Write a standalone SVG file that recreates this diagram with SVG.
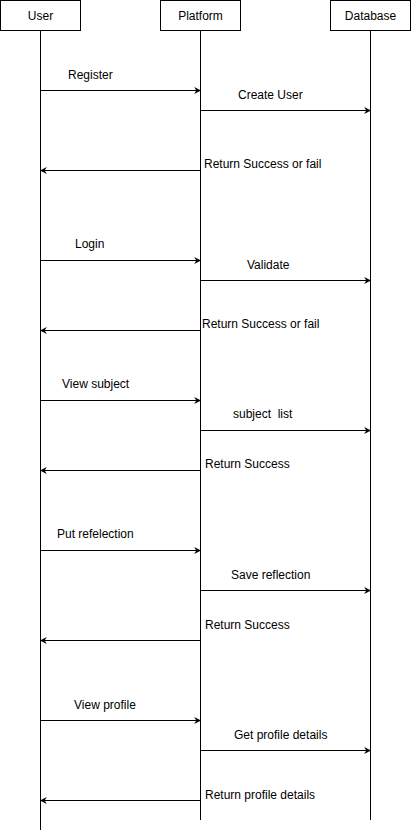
<svg xmlns="http://www.w3.org/2000/svg" width="411" height="832" viewBox="0 0 411 832">
<style>
.box{fill:#fff;stroke:#000;stroke-width:1}
.life{stroke:#000;stroke-width:1;fill:none}
.msg{stroke:#000;stroke-width:1;fill:none;marker-end:url(#arr)}
text{font-family:"Liberation Sans",Arial,sans-serif;font-size:12px;fill:#000;white-space:pre}
.c{text-anchor:middle}
</style>
<defs>
<marker id="arr" viewBox="0 0 10 10" refX="9" refY="5" markerWidth="7" markerHeight="7" markerUnits="userSpaceOnUse" orient="auto">
<path d="M0,0 L10,5 L0,10 L3,5 Z" fill="#000"/>
</marker>
</defs>
<rect width="411" height="832" fill="#fff"/>
<g id="user">
<rect class="box" x="0.5" y="0.5" width="80" height="30"/>
<text class="c" x="40.5" y="20">User</text>
<line class="life" x1="40.5" y1="30.5" x2="40.5" y2="830"/>
</g>
<g id="platform">
<rect class="box" x="160.5" y="0.5" width="80" height="30"/>
<text class="c" x="200.5" y="20">Platform</text>
<line class="life" x1="200.5" y1="30.5" x2="200.5" y2="820"/>
</g>
<g id="database">
<rect class="box" x="330.5" y="0.5" width="80" height="30"/>
<text class="c" x="370.5" y="20">Database</text>
<line class="life" x1="370.5" y1="30.5" x2="370.5" y2="820"/>
</g>
<g id="connectors">
<line class="msg" x1="40.5" y1="90.5" x2="200.5" y2="90.5"/>
<line class="msg" x1="200.5" y1="110.5" x2="370.5" y2="110.5"/>
<line class="msg" x1="200.5" y1="170.5" x2="40.5" y2="170.5"/>
<line class="msg" x1="40.5" y1="260.5" x2="200.5" y2="260.5"/>
<line class="msg" x1="200.5" y1="280.5" x2="370.5" y2="280.5"/>
<line class="msg" x1="200.5" y1="330.5" x2="40.5" y2="330.5"/>
<line class="msg" x1="40.5" y1="400.5" x2="200.5" y2="400.5"/>
<line class="msg" x1="200.5" y1="430.5" x2="370.5" y2="430.5"/>
<line class="msg" x1="200.5" y1="470.5" x2="40.5" y2="470.5"/>
<line class="msg" x1="40.5" y1="550.5" x2="200.5" y2="550.5"/>
<line class="msg" x1="200.5" y1="590.5" x2="370.5" y2="590.5"/>
<line class="msg" x1="200.5" y1="640.5" x2="40.5" y2="640.5"/>
<line class="msg" x1="40.5" y1="720.5" x2="200.5" y2="720.5"/>
<line class="msg" x1="200.5" y1="750.5" x2="370.5" y2="750.5"/>
<line class="msg" x1="200.5" y1="800.5" x2="40.5" y2="800.5"/>
<text x="68" y="79">Register</text>
<text x="238" y="99">Create User</text>
<text x="204" y="168">Return Success or fail</text>
<text x="75" y="248">Login</text>
<text x="247" y="269">Validate</text>
<text x="202" y="328">Return Success or fail</text>
<text x="62" y="388">View subject</text>
<text x="233" y="418" xml:space="preserve">subject  list</text>
<text x="205" y="468">Return Success</text>
<text x="57" y="538">Put refelection</text>
<text x="231" y="579">Save reflection</text>
<text x="205" y="629">Return Success</text>
<text x="74" y="709">View profile</text>
<text x="234" y="739">Get profile details</text>
<text x="205" y="799">Return profile details</text>
</g>
</svg>
